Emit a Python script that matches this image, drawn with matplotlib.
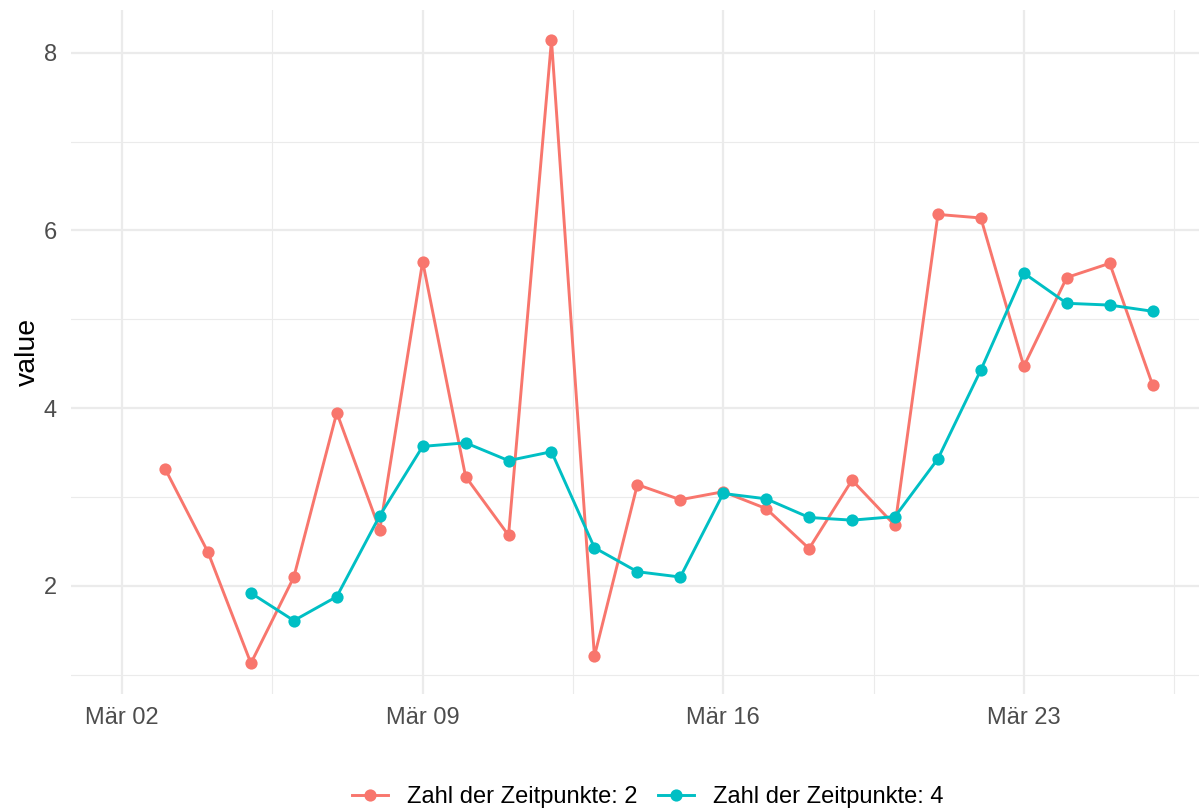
import matplotlib
matplotlib.use("Agg")
import matplotlib.pyplot as plt
import matplotlib.dates as mdates
from matplotlib.ticker import FixedLocator
import datetime as dt

plt.rcParams['font.family'] = ['Liberation Sans', 'DejaVu Sans']

# ---- data ----
dates_red = [dt.datetime(2020, 3, d) for d in range(3, 27)]
values_red = [3.32, 2.38, 1.13, 2.10, 3.95, 2.63, 5.65, 3.23, 2.57, 8.14,
              1.21, 3.14, 2.97, 3.06, 2.87, 2.42, 3.19, 2.68, 6.18, 6.14,
              4.47, 5.47, 5.63, 4.26]

dates_teal = [dt.datetime(2020, 3, d) for d in range(5, 27)]
values_teal = [1.92, 1.61, 1.88, 2.79, 3.57, 3.61, 3.41, 3.51, 2.43, 2.16,
               2.10, 3.04, 2.98, 2.77, 2.74, 2.78, 3.43, 4.43, 5.52, 5.18,
               5.16, 5.09]

series_labels = ["Zahl der Zeitpunkte: 2", "Zahl der Zeitpunkte: 4"]
series_colors = ["#F8766D", "#00BFC4"]

tick_dates = [dt.datetime(2020, 3, d) for d in (2, 9, 16, 23)]
tick_labels = ["Mär 02", "Mär 09", "Mär 16", "Mär 23"]
y_ticks = [2, 4, 6, 8]
y_label = "value"

# ---- figure ----
W, H = 1199, 811
fig = plt.figure(figsize=(W / 100, H / 100), dpi=100)
ax = fig.add_axes([71 / W, (H - 694) / H, (1199 - 71) / W, (694 - 10) / H])

for d, v, lab, col in [(dates_red, values_red, series_labels[0], series_colors[0]),
                       (dates_teal, values_teal, series_labels[1], series_colors[1])]:
    ax.plot(d, v, color=col, lw=2.1, marker='o', markersize=8.8,
            markeredgewidth=0, label=lab, zorder=3)

base = mdates.date2num(tick_dates[0])
ax.set_xlim(base - 1.19, base + 25.08)
ax.set_ylim(0.784, 8.48)

ax.xaxis.set_major_locator(FixedLocator([mdates.date2num(t) for t in tick_dates]))
ax.set_xticklabels(tick_labels)
ax.xaxis.set_minor_locator(FixedLocator([mdates.date2num(t) - 3.5 for t in tick_dates] +
                                        [mdates.date2num(tick_dates[-1]) + 3.5]))
ax.set_yticks(y_ticks)
ax.set_yticklabels([str(v) for v in y_ticks])
ax.yaxis.set_minor_locator(FixedLocator([1, 3, 5, 7]))

ax.grid(which='major', color='#EBEBEB', lw=1.6)
ax.grid(which='minor', color='#EBEBEB', lw=0.8)
ax.set_axisbelow(True)
for s in ax.spines.values():
    s.set_visible(False)
ax.tick_params(which='both', length=0)
ax.tick_params(axis='both', labelsize=17, colors='#4D4D4D')
ax.tick_params(axis='x', pad=9)
ax.tick_params(axis='y', pad=10)

ax.set_ylabel(y_label, fontsize=20.5, color='black', labelpad=2)

leg = fig.legend(loc='center', bbox_to_anchor=(648 / W, (H - 797) / H), ncol=2,
                 frameon=False, fontsize=17, handlelength=1.52,
                 columnspacing=0.87, handletextpad=0.8, borderpad=0)

fig.savefig("out.png", dpi=100)
